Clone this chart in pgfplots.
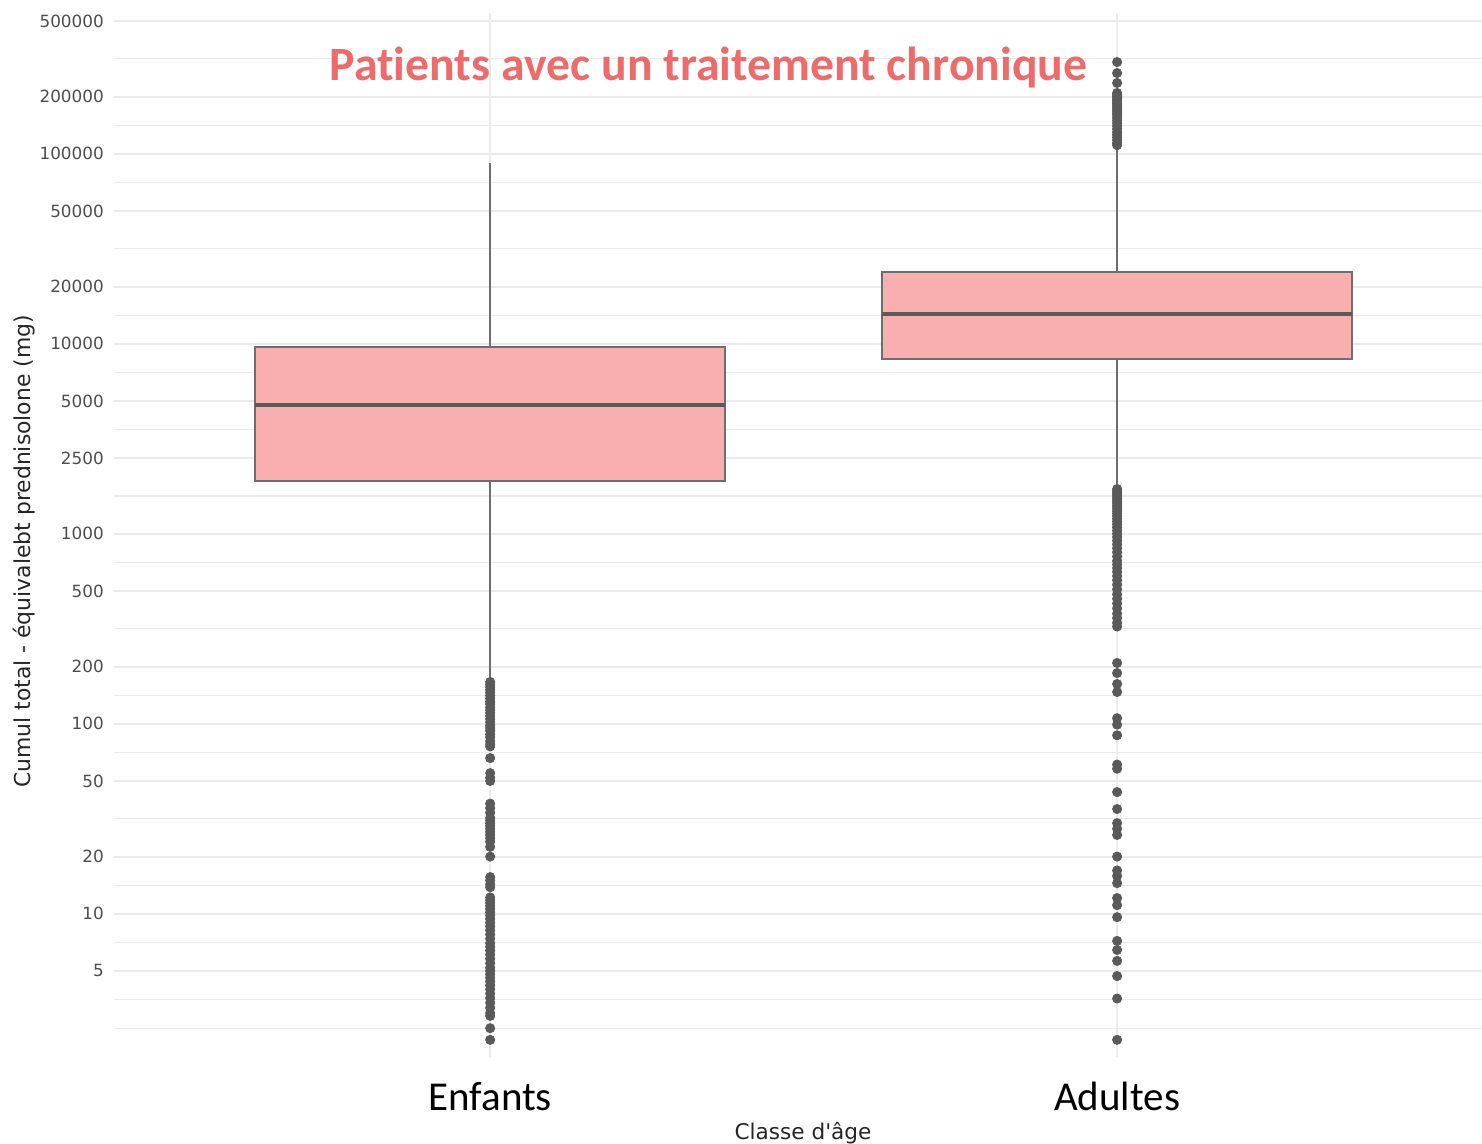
\documentclass[border=0pt]{standalone}
\usepackage{pgfplots}
\usepackage{pgfplotstable}
\pgfplotsset{compat=1.18}
\usepackage{fontspec}
\setmainfont{DejaVu Sans}[Ligatures=TeXOff]
\newfontfamily\carlito{Carlito}[Ligatures=NoCommon]
\definecolor{gridc}{HTML}{EBEBEB}
\definecolor{boxfill}{HTML}{F8AFAD}
\definecolor{boxline}{HTML}{6E6E6E}
\definecolor{medc}{HTML}{5A5A5A}
\definecolor{ptc}{HTML}{5A5A5A}
\definecolor{titlec}{HTML}{EE6B6B}
\definecolor{tickc}{HTML}{4D4D4D}

\pgfplotstableread{
v
166
161
156
151
146
141
136
131
127
122
118
114
110
106
102
98
95
92
88
85
81
78
76
66
55
52
50
38
36
34
32
31
30
29
28
27
26
25
24
22.5
20
15.6
15
14.3
13.8
12.2
11.8
11.4
11
10.6
10.2
9.8
9.4
9
8.6
8.2
7.8
7.4
7
6.7
6.4
6.1
5.8
5.5
5.2
5
4.8
4.6
4.4
4.2
4
3.8
3.6
3.4
3.2
3
2.9
2.5
2.17
}\enfout

\pgfplotstableread{
v
304000
266000
236000
209000
204000
200000
196000
192000
188000
184000
180000
176000
172000
168000
164000
160000
155000
150000
145000
140000
135000
130000
126000
122000
118000
114000
111000
1720
1680
1640
1600
1560
1520
1480
1440
1400
1360
1320
1280
1240
1200
1160
1120
1080
1040
1000
960
920
880
840
800
760
720
690
660
630
600
570
540
510
480
455
430
405
380
360
340
325
209
185
162
147
107
99
87
61
58
43.7
35.6
30
28
26
20
16.9
15.8
14.5
12.1
11.1
9.6
7.2
6.45
5.65
4.7
3.58
2.17
}\adout

\begin{document}
\begin{tikzpicture}
\useasboundingbox (-57pt,-43.5pt) rectangle (684pt,528.5pt);
\begin{axis}[
  at={(0,0)}, anchor=south west,
  scale only axis, width=684pt, height=522pt,
  xmin=0.4, xmax=2.582,
  ymode=log, ymin=1.763, ymax=551000,
  xtick={1,2}, xticklabels={Enfants,Adultes},
  ytick={5,10,20,50,100,200,500,1000,2500,5000,10000,20000,50000,100000,200000,500000},
  yticklabels={5,10,20,50,100,200,500,1000,2500,5000,10000,20000,50000,100000,200000,500000},
  minor ytick={2.5,3.536,7.071,14.14,31.62,70.71,141.4,316.2,707.1,1581,3536,7071,14142,31623,70711,141421,316228},
  xmajorgrids, ymajorgrids, yminorgrids,
  major grid style={gridc, line width=1pt},
  minor grid style={gridc, line width=0.6pt},
  axis line style={draw=none},
  tick style={draw=none},
  major tick length=0pt, minor tick length=0pt,
  /pgf/number format/assume math mode=true,
  yticklabel style={font=\fontsize{8.4}{10}\selectfont, text=tickc, xshift=-1.6pt},
  xticklabel style={font=\carlito\fontsize{20.5}{24}\selectfont, text=black, anchor=base, yshift=-27pt},
  clip=false,
]
% Enfants
\addplot[boxline, line width=1pt] coordinates {(1,9620) (1,89500)};
\addplot[boxline, line width=1pt] coordinates {(1,1897) (1,170)};
\addplot[fill=boxfill, draw=boxline, line width=1pt] coordinates {(0.625,1897) (1.375,1897) (1.375,9620) (0.625,9620)} --cycle;
\addplot[medc, line width=2pt] coordinates {(0.625,4764) (1.375,4764)};
\addplot[only marks, mark=*, mark size=2.3pt, ptc, mark options={draw=none, fill=ptc}] table[x expr=1, y=v] {\enfout};
% Adultes
\addplot[boxline, line width=1pt] coordinates {(2,23900) (2,110000)};
\addplot[boxline, line width=1pt] coordinates {(2,8320) (2,1750)};
\addplot[fill=boxfill, draw=boxline, line width=1pt] coordinates {(1.625,8320) (2.375,8320) (2.375,23900) (1.625,23900)} --cycle;
\addplot[medc, line width=2pt] coordinates {(1.625,14350) (2.375,14350)};
\addplot[only marks, mark=*, mark size=2.3pt, ptc, mark options={draw=none, fill=ptc}] table[x expr=2, y=v] {\adout};

\node[font=\carlito\bfseries\fontsize{23.9}{28}\selectfont, text=titlec, anchor=base] at (axis description cs:0.4346,0.9358) {Patients avec un traitement chronique};
\node[font=\fontsize{10.8}{12}\selectfont, text=black!85, anchor=base] at ([yshift=-41.5pt]axis description cs:0.5037,0) {Classe d'âge};
\node[font=\fontsize{10.95}{12}\selectfont, text=black!85, anchor=base, rotate=90] at ([xshift=-41.75pt]axis description cs:0,0.4842) {Cumul total - équivalebt prednisolone (mg)};
\end{axis}
\end{tikzpicture}
\end{document}
